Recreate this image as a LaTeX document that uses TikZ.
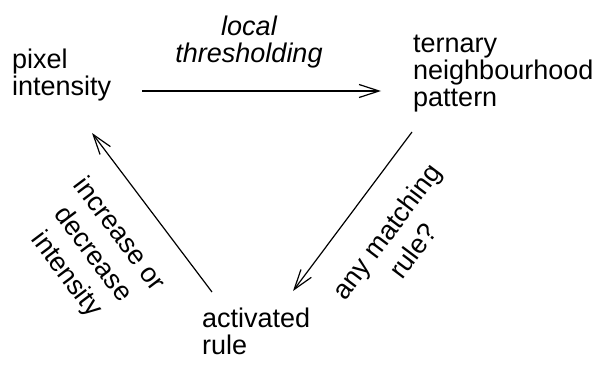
\documentclass[tikz,border=0pt]{standalone}
\usepackage{fontspec}
\setmainfont{Liberation Sans}
\usetikzlibrary{arrows.meta}
\begin{document}
\begin{tikzpicture}[x=1pt,y=-1pt,
  lbl/.style={inner sep=0pt, font=\fontsize{27}{27}\selectfont},
  rlbl/.style={inner sep=0pt, font=\fontsize{27}{33}\selectfont},
  conn/.style={line width=1.2pt, -{Straight Barb[length=20pt,width=13pt]}}]
\useasboundingbox (0,0) rectangle (599,364);
\node[lbl, anchor=base west] (pixel) at (12,68) {\begin{tabular}[t]{@{}l@{}}pixel\\intensity\end{tabular}};
\node[lbl, anchor=base] (thresh) at (249,35) {\itshape\begin{tabular}[t]{@{}c@{}}local\\thresholding\end{tabular}};
\node[lbl, anchor=base west] (ternary) at (413,52) {\begin{tabular}[t]{@{}l@{}}ternary\\neighbourhood\\pattern\end{tabular}};
\node[lbl, anchor=base west] (activated) at (202,327) {\begin{tabular}[t]{@{}l@{}}activated\\rule\end{tabular}};
\node[rlbl, rotate=53] (matchlbl) at (402,243) {\begin{tabular}{@{}c@{}}any matching\\rule?\end{tabular}};
\node[rlbl, rotate=-53] (changelbl) at (92,255) {\begin{tabular}{@{}c@{}}increase or\\decrease\\intensity\end{tabular}};
\coordinate (h1) at (142,91);
\coordinate (h2) at (381,91);
\coordinate (r1) at (412,132);
\coordinate (r2) at (293,291);
\coordinate (l1) at (212,292);
\coordinate (l2) at (92,133);
\draw[conn] (h1) -- (h2);
\draw[conn] (r1) -- (r2);
\draw[conn] (l1) -- (l2);
\end{tikzpicture}
\end{document}
